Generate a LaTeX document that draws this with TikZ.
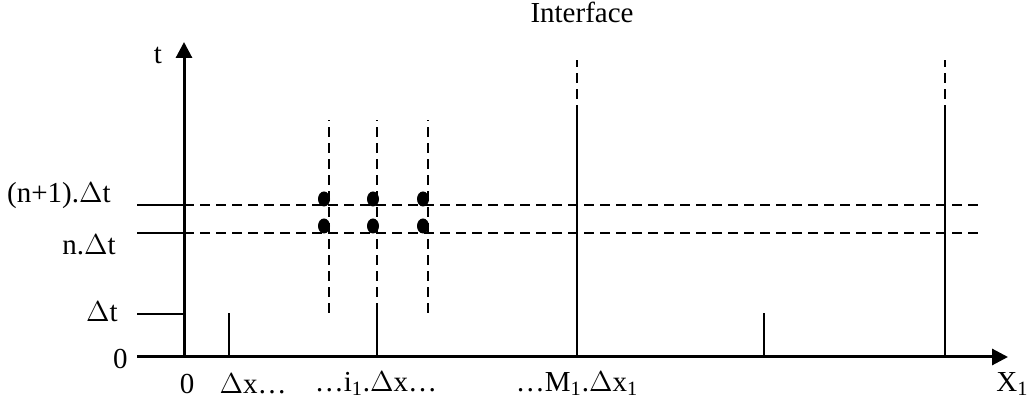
\documentclass[tikz,border=0pt]{standalone}
\usepackage{fontspec}
\setmainfont{Liberation Serif}
\usetikzlibrary{arrows.meta}
\tikzset{
    axisline/.style={line width=1.5pt, -{Triangle[length=8pt, width=8pt]}},
    gridline/.style={line width=1pt},
    gridmesh/.style={line width=1pt, dash pattern=on 5pt off 3pt},
    nodedot/.style={fill=black, draw=none},
    axislabel/.style={inner sep=0pt, font=\fontsize{14.5}{17}\selectfont}
}
\begin{document}
\begin{tikzpicture}[x=0.5pt, y=-0.5pt]
    \useasboundingbox (0,0) rectangle (1027,399);

    % axes
    \coordinate (origin) at (184,357);
    \coordinate (xend) at (1008,357);
    \coordinate (tend) at (184,42);
    \coordinate (xstart) at (137,357);
    \draw[axisline] (xstart) -- (xend);
    \draw[axisline] (origin) -- (tend);

    % time levels
    \coordinate (tlA) at (137,314);
    \coordinate (tlB) at (137,233);
    \coordinate (tlC) at (137,205);
    \coordinate (tlAe) at (184,314);
    \coordinate (tlBe) at (184,233);
    \coordinate (tlCe) at (184,205);
    \coordinate (tlBd) at (978,233);
    \coordinate (tlCd) at (978,205);
    \draw[gridline] (tlA) -- (tlAe);
    \draw[gridline] (tlB) -- (tlBe);
    \draw[gridline] (tlC) -- (tlCe);
    \draw[gridmesh] (tlBe) -- (tlBd);
    \draw[gridmesh] (tlCe) -- (tlCd);

    % space steps
    \coordinate (dxb) at (229,357);
    \coordinate (dxt) at (229,313);
    \draw[gridline] (dxb) -- (dxt);
    \coordinate (ib) at (377,357);
    \coordinate (im) at (377,313);
    \coordinate (it) at (377,120);
    \draw[gridline] (ib) -- (im);
    \draw[gridmesh] (im) -- (it);
    \coordinate (imb) at (329,313);
    \coordinate (imt) at (329,120);
    \draw[gridmesh] (imb) -- (imt);
    \coordinate (ipb) at (428,313);
    \coordinate (ipt) at (428,120);
    \draw[gridmesh] (ipb) -- (ipt);
    \coordinate (rb) at (764,357);
    \coordinate (rt) at (764,313);
    \draw[gridline] (rb) -- (rt);

    % interfaces
    \coordinate (ifAb) at (577,357);
    \coordinate (ifAm) at (577,115);
    \coordinate (ifAt) at (577,60);
    \draw[gridline] (ifAb) -- (ifAm);
    \draw[gridmesh] (ifAm) -- (ifAt);
    \coordinate (ifBb) at (945,357);
    \coordinate (ifBm) at (945,115);
    \coordinate (ifBt) at (945,60);
    \draw[gridline] (ifBb) -- (ifBm);
    \draw[gridmesh] (ifBm) -- (ifBt);

    % grid points
    \foreach \px in {324,373,423} {
        \fill[nodedot] (\px,199) ellipse (6 and 7.5);
        \fill[nodedot] (\px,226) ellipse (6 and 7.5);
    }

    % labels
    \node[axislabel] (tlab) at (158,55) {t};
    \node[axislabel] (iflab) at (582,12) {Interface};
    \node[axislabel, anchor=east] (lnp) at (111,196) {(n+1).$\Delta$t};
    \node[axislabel, anchor=east] (ln) at (116,245) {n.$\Delta$t};
    \node[axislabel, anchor=east] (ldt) at (118,312) {$\Delta$t};
    \node[axislabel, anchor=east] (lzero) at (128,359) {0};
    \node[axislabel] (xzero) at (187,384) {0};
    \node[axislabel] (xdx) at (253,384) {$\Delta$x\dots};
    \node[axislabel] (xi) at (376,384) {\dots i\textsubscript{1}.$\Delta$x\dots};
    \node[axislabel] (xm) at (577,384) {\dots M\textsubscript{1}.$\Delta$x\textsubscript{1}};
    \node[axislabel, anchor=west] (xlab) at (996,384) {X\textsubscript{1}};
\end{tikzpicture}
\end{document}
